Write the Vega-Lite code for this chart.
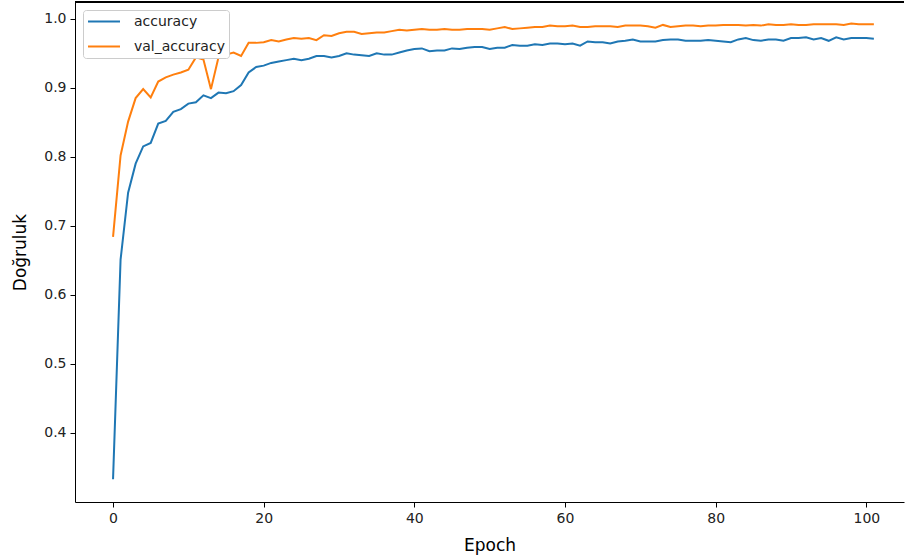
{
  "$schema": "https://vega.github.io/schema/vega-lite/v6.json",
  "autosize": "none",
  "width": 829,
  "height": 500,
  "padding": {"left": 75, "top": 2, "right": 3, "bottom": 58},
  "background": "white",
  "config": {
    "view": {"stroke": null},
    "font": "DejaVu Sans",
    "axis": {
      "grid": false,
      "domainColor": "black",
      "domainWidth": 1,
      "tickColor": "black",
      "tickSize": 5,
      "tickWidth": 1,
      "labelColor": "#222222",
      "labelFont": "DejaVu Sans",
      "labelFontSize": 14,
      "titleFont": "DejaVu Sans",
      "titleFontSize": 17,
      "titleFontWeight": "normal",
      "titleColor": "black"
    },
    "legend": {
      "labelFont": "DejaVu Sans",
      "labelFontSize": 14,
      "labelColor": "#222222"
    }
  },
  "data": {
    "values": [
      {"epoch": 0, "accuracy": 0.333, "val_accuracy": 0.684},
      {"epoch": 1, "accuracy": 0.651, "val_accuracy": 0.802},
      {"epoch": 2, "accuracy": 0.748, "val_accuracy": 0.851},
      {"epoch": 3, "accuracy": 0.790, "val_accuracy": 0.885},
      {"epoch": 4, "accuracy": 0.815, "val_accuracy": 0.898},
      {"epoch": 5, "accuracy": 0.820, "val_accuracy": 0.886},
      {"epoch": 6, "accuracy": 0.848, "val_accuracy": 0.909},
      {"epoch": 7, "accuracy": 0.852, "val_accuracy": 0.915},
      {"epoch": 8, "accuracy": 0.865, "val_accuracy": 0.919},
      {"epoch": 9, "accuracy": 0.869, "val_accuracy": 0.922},
      {"epoch": 10, "accuracy": 0.877, "val_accuracy": 0.926},
      {"epoch": 11, "accuracy": 0.879, "val_accuracy": 0.944},
      {"epoch": 12, "accuracy": 0.889, "val_accuracy": 0.941},
      {"epoch": 13, "accuracy": 0.885, "val_accuracy": 0.898},
      {"epoch": 14, "accuracy": 0.893, "val_accuracy": 0.944},
      {"epoch": 15, "accuracy": 0.892, "val_accuracy": 0.948},
      {"epoch": 16, "accuracy": 0.895, "val_accuracy": 0.951},
      {"epoch": 17, "accuracy": 0.904, "val_accuracy": 0.946},
      {"epoch": 18, "accuracy": 0.922, "val_accuracy": 0.965},
      {"epoch": 19, "accuracy": 0.930, "val_accuracy": 0.965},
      {"epoch": 20, "accuracy": 0.932, "val_accuracy": 0.966},
      {"epoch": 21, "accuracy": 0.936, "val_accuracy": 0.969},
      {"epoch": 22, "accuracy": 0.938, "val_accuracy": 0.967},
      {"epoch": 23, "accuracy": 0.940, "val_accuracy": 0.970},
      {"epoch": 24, "accuracy": 0.942, "val_accuracy": 0.972},
      {"epoch": 25, "accuracy": 0.940, "val_accuracy": 0.971},
      {"epoch": 26, "accuracy": 0.942, "val_accuracy": 0.972},
      {"epoch": 27, "accuracy": 0.946, "val_accuracy": 0.969},
      {"epoch": 28, "accuracy": 0.946, "val_accuracy": 0.976},
      {"epoch": 29, "accuracy": 0.944, "val_accuracy": 0.975},
      {"epoch": 30, "accuracy": 0.946, "val_accuracy": 0.979},
      {"epoch": 31, "accuracy": 0.950, "val_accuracy": 0.981},
      {"epoch": 32, "accuracy": 0.948, "val_accuracy": 0.981},
      {"epoch": 33, "accuracy": 0.947, "val_accuracy": 0.978},
      {"epoch": 34, "accuracy": 0.946, "val_accuracy": 0.979},
      {"epoch": 35, "accuracy": 0.950, "val_accuracy": 0.980},
      {"epoch": 36, "accuracy": 0.948, "val_accuracy": 0.980},
      {"epoch": 37, "accuracy": 0.948, "val_accuracy": 0.982},
      {"epoch": 38, "accuracy": 0.951, "val_accuracy": 0.984},
      {"epoch": 39, "accuracy": 0.954, "val_accuracy": 0.983},
      {"epoch": 40, "accuracy": 0.956, "val_accuracy": 0.984},
      {"epoch": 41, "accuracy": 0.957, "val_accuracy": 0.985},
      {"epoch": 42, "accuracy": 0.953, "val_accuracy": 0.984},
      {"epoch": 43, "accuracy": 0.954, "val_accuracy": 0.984},
      {"epoch": 44, "accuracy": 0.954, "val_accuracy": 0.985},
      {"epoch": 45, "accuracy": 0.957, "val_accuracy": 0.984},
      {"epoch": 46, "accuracy": 0.956, "val_accuracy": 0.984},
      {"epoch": 47, "accuracy": 0.958, "val_accuracy": 0.985},
      {"epoch": 48, "accuracy": 0.959, "val_accuracy": 0.985},
      {"epoch": 49, "accuracy": 0.959, "val_accuracy": 0.985},
      {"epoch": 50, "accuracy": 0.956, "val_accuracy": 0.984},
      {"epoch": 51, "accuracy": 0.958, "val_accuracy": 0.986},
      {"epoch": 52, "accuracy": 0.958, "val_accuracy": 0.988},
      {"epoch": 53, "accuracy": 0.962, "val_accuracy": 0.985},
      {"epoch": 54, "accuracy": 0.961, "val_accuracy": 0.986},
      {"epoch": 55, "accuracy": 0.961, "val_accuracy": 0.987},
      {"epoch": 56, "accuracy": 0.963, "val_accuracy": 0.988},
      {"epoch": 57, "accuracy": 0.962, "val_accuracy": 0.988},
      {"epoch": 58, "accuracy": 0.964, "val_accuracy": 0.990},
      {"epoch": 59, "accuracy": 0.964, "val_accuracy": 0.989},
      {"epoch": 60, "accuracy": 0.963, "val_accuracy": 0.989},
      {"epoch": 61, "accuracy": 0.964, "val_accuracy": 0.990},
      {"epoch": 62, "accuracy": 0.961, "val_accuracy": 0.988},
      {"epoch": 63, "accuracy": 0.967, "val_accuracy": 0.988},
      {"epoch": 64, "accuracy": 0.966, "val_accuracy": 0.989},
      {"epoch": 65, "accuracy": 0.966, "val_accuracy": 0.989},
      {"epoch": 66, "accuracy": 0.964, "val_accuracy": 0.989},
      {"epoch": 67, "accuracy": 0.967, "val_accuracy": 0.988},
      {"epoch": 68, "accuracy": 0.968, "val_accuracy": 0.990},
      {"epoch": 69, "accuracy": 0.970, "val_accuracy": 0.990},
      {"epoch": 70, "accuracy": 0.967, "val_accuracy": 0.990},
      {"epoch": 71, "accuracy": 0.967, "val_accuracy": 0.989},
      {"epoch": 72, "accuracy": 0.967, "val_accuracy": 0.987},
      {"epoch": 73, "accuracy": 0.969, "val_accuracy": 0.991},
      {"epoch": 74, "accuracy": 0.970, "val_accuracy": 0.988},
      {"epoch": 75, "accuracy": 0.970, "val_accuracy": 0.989},
      {"epoch": 76, "accuracy": 0.968, "val_accuracy": 0.990},
      {"epoch": 77, "accuracy": 0.968, "val_accuracy": 0.990},
      {"epoch": 78, "accuracy": 0.968, "val_accuracy": 0.989},
      {"epoch": 79, "accuracy": 0.969, "val_accuracy": 0.990},
      {"epoch": 80, "accuracy": 0.968, "val_accuracy": 0.990},
      {"epoch": 81, "accuracy": 0.967, "val_accuracy": 0.991},
      {"epoch": 82, "accuracy": 0.966, "val_accuracy": 0.991},
      {"epoch": 83, "accuracy": 0.970, "val_accuracy": 0.991},
      {"epoch": 84, "accuracy": 0.972, "val_accuracy": 0.990},
      {"epoch": 85, "accuracy": 0.969, "val_accuracy": 0.991},
      {"epoch": 86, "accuracy": 0.968, "val_accuracy": 0.990},
      {"epoch": 87, "accuracy": 0.970, "val_accuracy": 0.992},
      {"epoch": 88, "accuracy": 0.970, "val_accuracy": 0.991},
      {"epoch": 89, "accuracy": 0.968, "val_accuracy": 0.991},
      {"epoch": 90, "accuracy": 0.972, "val_accuracy": 0.992},
      {"epoch": 91, "accuracy": 0.972, "val_accuracy": 0.991},
      {"epoch": 92, "accuracy": 0.973, "val_accuracy": 0.991},
      {"epoch": 93, "accuracy": 0.970, "val_accuracy": 0.992},
      {"epoch": 94, "accuracy": 0.972, "val_accuracy": 0.992},
      {"epoch": 95, "accuracy": 0.968, "val_accuracy": 0.992},
      {"epoch": 96, "accuracy": 0.973, "val_accuracy": 0.992},
      {"epoch": 97, "accuracy": 0.970, "val_accuracy": 0.991},
      {"epoch": 98, "accuracy": 0.972, "val_accuracy": 0.993},
      {"epoch": 99, "accuracy": 0.972, "val_accuracy": 0.992},
      {"epoch": 100, "accuracy": 0.972, "val_accuracy": 0.992},
      {"epoch": 101, "accuracy": 0.971, "val_accuracy": 0.992}
    ]
  },
  "layer": [
    {
      "transform": [{"fold": ["accuracy", "val_accuracy"], "as": ["metric", "value"]}],
      "mark": {"type": "line", "strokeWidth": 2, "clip": true},
      "encoding": {
        "x": {
          "field": "epoch",
          "type": "quantitative",
          "scale": {"domain": [-5.05, 105.0], "nice": false, "zero": false},
          "axis": {"values": [0, 20, 40, 60, 80, 100], "title": "Epoch", "labelPadding": 4, "titlePadding": 12}
        },
        "y": {
          "field": "value",
          "type": "quantitative",
          "scale": {"domain": [0.3, 1.0242], "nice": false, "zero": false},
          "axis": {"values": [0.4, 0.5, 0.6, 0.7, 0.8, 0.9, 1.0], "format": ".1f", "title": "Doğruluk", "labelPadding": 4, "titlePadding": 14}
        },
        "color": {
          "field": "metric",
          "type": "nominal",
          "scale": {"domain": ["accuracy", "val_accuracy"], "range": ["#1f77b4", "#ff7f0e"]},
          "legend": {
            "title": null,
            "orient": "none",
            "legendX": 8,
            "legendY": 8,
            "symbolType": "stroke",
            "symbolSize": 1024,
            "symbolStrokeWidth": 2,
            "labelOffset": 13,
            "clipHeight": 15,
            "rowPadding": 10,
            "padding": 4,
            "fillColor": "white",
            "strokeColor": "#cccccc",
            "cornerRadius": 3
          }
        }
      }
    },
    {
      "mark": {"type": "rule", "color": "black", "strokeWidth": 1},
      "encoding": {"y": {"datum": 1.0242}}
    }
  ]
}
